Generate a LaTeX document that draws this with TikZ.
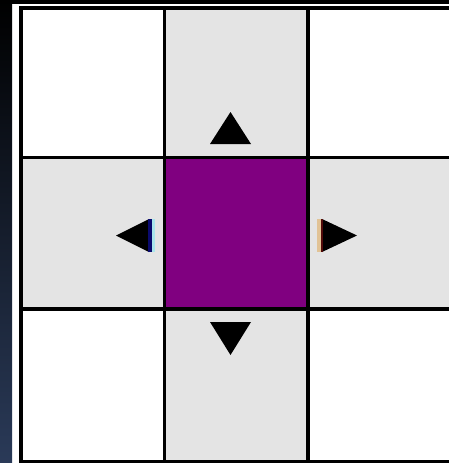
\documentclass[tikz,border=0pt]{standalone}
\definecolor{cellgray}{RGB}{228,228,228}
\definecolor{cellpurple}{RGB}{128,0,128}
\definecolor{bgbottom}{RGB}{42,58,88}
\definecolor{fringenavy}{RGB}{10,10,110}
\definecolor{fringecyan}{RGB}{170,230,235}
\definecolor{fringetan}{RGB}{225,195,150}
\definecolor{fringered}{RGB}{80,10,10}
\tikzset{
  gridline/.style={draw=black, line width=3.6pt},
  arrowtri/.style={fill=black, draw=none},
}
\begin{document}
\begin{tikzpicture}[x=1pt,y=-1pt]
\useasboundingbox (0,0) rectangle (449,463);
\clip (0,0) rectangle (449,463);
% backdrop
\fill[white] (0,0) rectangle (449,463);
\shade[top color=black, bottom color=bgbottom] (0,0) rectangle (12,463);
\fill[black] (0,0) rectangle (449,4);
% cells
\fill[white] (21,8) rectangle (451.5,461.5);
\fill[cellgray] (164.5,8) rectangle (308,461.5);
\fill[cellgray] (21,157.5) rectangle (451.5,309);
\fill[cellpurple] (164.5,157.5) rectangle (308,309);
% grid lines
\draw[gridline] (21,8) rectangle (451.5,461.5);
\draw[gridline] (164.5,8) -- (164.5,461.5);
\draw[gridline] (308,8) -- (308,461.5);
\draw[gridline] (21,157.5) -- (451.5,157.5);
\draw[gridline] (21,309) -- (451.5,309);
% triangles
\fill[arrowtri] (230.5,112) -- (251,144) -- (210,144) -- cycle;
\fill[arrowtri] (230.5,355) -- (251,322) -- (210,322) -- cycle;
\fill[arrowtri] (116,235.5) -- (149,219) -- (149,252) -- cycle;
\fill[fringenavy] (148,219) rectangle (152,252);
\fill[fringecyan] (152,219) rectangle (155,252);
\fill[arrowtri] (357,235.5) -- (322,219) -- (322,252) -- cycle;
\fill[fringetan] (317,219) rectangle (321,252);
\fill[fringered] (321,219) rectangle (323,252);
\end{tikzpicture}
\end{document}
